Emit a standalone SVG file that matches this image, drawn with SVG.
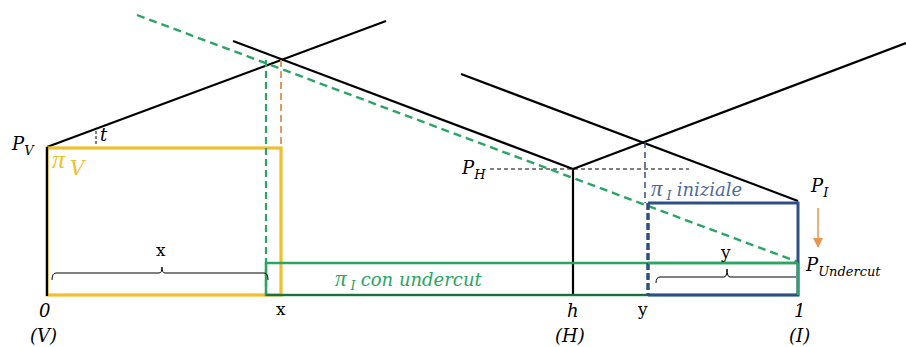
<svg xmlns="http://www.w3.org/2000/svg" width="906" height="347" viewBox="0 0 906 347">
<defs>
<style>
.blk{stroke:#000;stroke-width:2.2;fill:none}
.thin{stroke:#000;stroke-width:1;fill:none}
.math{font-family:"DejaVu Serif","Liberation Serif",serif;font-style:italic;font-size:18px;fill:#000}
.rom{font-family:"DejaVu Serif","Liberation Serif",serif;font-size:17px;fill:#000}
.pi{font-family:"Liberation Serif","DejaVu Serif",serif;font-style:italic;font-size:26px}
.sub{font-size:13px}
.yel{stroke:#EEBF2E;stroke-width:3.2;fill:none}
.grn{stroke:#2AA564;stroke-width:2.5;fill:none}
.blu{stroke:#2F4F87;stroke-width:3;fill:none}
</style>
<marker id="arr" viewBox="0 0 10 10" refX="9" refY="5" markerWidth="11" markerHeight="10" orient="auto" markerUnits="userSpaceOnUse">
<path d="M0,0 L10,5 L0,10 z" fill="#E8964D"/>
</marker>
</defs>
<rect width="906" height="347" fill="#fff"/>
<g id="connectors">
<line class="blk" x1="47" y1="147" x2="386" y2="21"/>
<line class="blk" x1="233" y1="41" x2="573" y2="169"/>
<line class="blk" x1="573" y1="169" x2="906" y2="43"/>
<line class="blk" x1="461" y1="74" x2="798" y2="201"/>
<line class="blk" x1="573" y1="169" x2="573" y2="295"/>
<line class="thin" stroke-dasharray="4,3" x1="490" y1="169" x2="689" y2="169"/>
<line class="thin" stroke-dasharray="3,2" x1="96" y1="131" x2="96" y2="144"/>
</g>
<g id="node-yellow">
<rect class="yel" x="47" y="148" width="234" height="147"/>
<line class="blk" x1="47" y1="147" x2="47" y2="296" stroke-width="2.5"/>
</g>
<g id="node-orange-dash">
<line stroke="#E3995C" stroke-width="2" stroke-dasharray="7,4" x1="281" y1="60" x2="281" y2="148"/>
</g>
<g id="node-green">
<line stroke="#2AA564" stroke-width="2.4" stroke-dasharray="8,5" x1="137" y1="15" x2="798" y2="262"/>
<line stroke="#2AA564" stroke-width="2.2" stroke-dasharray="7,4" x1="266" y1="60" x2="266" y2="295"/>
<rect class="grn" x="266" y="263" width="532" height="32"/>
<line stroke="#1E6E3E" stroke-width="2.2" x1="266" y1="295" x2="648" y2="295"/>
</g>
<g id="node-blue">
<line stroke="#2F4F87" stroke-width="1.5" stroke-dasharray="6,4" x1="645" y1="142" x2="645" y2="203"/>
<path class="blu" d="M648,203 L798,203 L798,295 L648,295"/>
<line stroke="#2F4F87" stroke-width="3.5" stroke-dasharray="7,3" x1="648" y1="203" x2="648" y2="295"/>
<line stroke="#2AA564" stroke-width="2.5" x1="648" y1="263" x2="798" y2="263"/>
<line stroke="#2AA564" stroke-width="2.2" x1="798" y1="263" x2="798" y2="295"/>
</g>
<g id="node-braces">
<path class="thin" d="M52,280 Q52,273 56,273 L159,273 Q162,273 162,267 Q162,273 165,273 L264,273 Q268,273 268,280"/>
<path class="thin" d="M656,283 Q656,277 660,277 L724,277 Q727,277 727,269 Q727,277 730,277 L796,277"/>
<text class="rom" x="156" y="256">x</text>
<text class="rom" x="721" y="258">y</text>
</g>
<g id="node-arrow">
<line stroke="#E8964D" stroke-width="1.5" x1="818" y1="208" x2="818" y2="247" marker-end="url(#arr)"/>
</g>
<g id="node-labels">
<text class="math" x="12" y="150">P<tspan class="sub" dy="5">V</tspan></text>
<text class="math" x="100" y="141">t</text>
<text class="math" x="52" y="168" style="fill:#EEBF2E;font-size:20px"><tspan class="pi">π</tspan><tspan dx="5" dy="7">V</tspan></text>
<text class="math" x="462" y="174">P<tspan class="sub" dy="5">H</tspan></text>
<text class="math" x="811" y="192">P<tspan class="sub" dy="5">I</tspan></text>
<text class="math" x="806" y="271">P<tspan class="sub" dy="5">Undercut</tspan></text>
<text class="math" x="651" y="196" style="fill:#4C6A9C"><tspan class="pi" style="font-size:23px">π</tspan><tspan class="sub" dx="4" dy="4">I</tspan><tspan dx="5" dy="-4">iniziale</tspan></text>
<text class="math" x="335" y="286" style="fill:#2AA564"><tspan class="pi" style="font-size:23px">π</tspan><tspan class="sub" dx="4" dy="4">I</tspan><tspan dx="5" dy="-4">con undercut</tspan></text>
<text class="math" x="39" y="317">0</text>
<text class="math" x="30" y="342">(V)</text>
<text class="rom" x="276" y="315">x</text>
<text class="math" x="567" y="317">h</text>
<text class="math" x="555" y="342">(H)</text>
<text class="rom" x="638" y="315">y</text>
<text class="math" x="794" y="317">1</text>
<text class="math" x="789" y="342">(I)</text>
</g>
</svg>
